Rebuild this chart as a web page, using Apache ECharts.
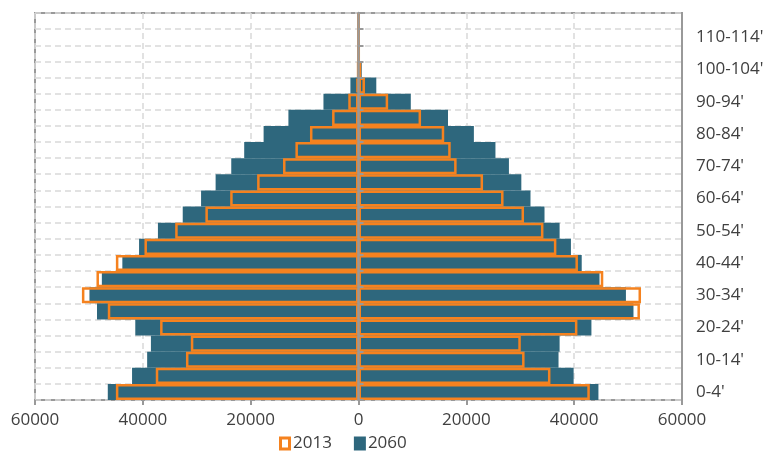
<!DOCTYPE html>
<html>
<head>
<meta charset="utf-8">
<script src="https://cdn.jsdelivr.net/npm/echarts@6/dist/echarts.min.js"></script>
<style>html,body{margin:0;padding:0;background:#fff}#c{width:767px;height:451px}</style>
</head>
<body>
<div id="c"></div>
<script>
const categories = ["0-4'","5-9'","10-14'","15-19'","20-24'","25-29'","30-34'","35-39'","40-44'","45-49'","50-54'","55-59'","60-64'","65-69'","70-74'","75-79'","80-84'","85-89'","90-94'","95-99'","100-104'","105-109'","110-114'","115-119'"];
const left2013 = [45000,37600,32000,31100,36800,46500,51300,48600,45000,39700,34000,28400,23800,18800,14000,11700,9000,4900,1900,400,150,50,30,0];
const left2060 = [46500,42000,39200,38500,41400,48500,49900,47600,43800,40700,37200,32600,29200,26500,23600,21200,17600,13000,6500,1500,200,50,0,0];
const right2013 = [42900,35600,30800,30100,40600,52200,52400,45400,40700,36700,34300,30700,26900,23100,18200,17100,15900,11600,5500,1200,500,100,50,0];
const right2060 = [44500,39900,37100,37300,43200,51000,49600,44700,41400,39400,37300,34500,31900,30200,27900,25400,21400,16600,9700,3300,600,100,0,0];
const xTicks = [-60000,-40000,-20000,0,20000,40000,60000];

const ORANGE = '#F5821F', TEAL = '#2E677D', GRAY = '#999999', TXT = '#404040';
const FONT = 'Open Sans';
const neg = a => a.map(v => -v);

const chart = echarts.init(document.getElementById('c'), null, {renderer: 'canvas'});
chart.setOption({
  animation: false,
  textStyle: {fontFamily: FONT},
  grid: {left: 35, right: 85, top: 13, bottom: 51, show: true, borderColor: GRAY, borderWidth: 2, backgroundColor: 'transparent'},
  legend: {
    left: 274, top: 430, itemWidth: 12, itemHeight: 14, itemGap: 22,
    textStyle: {fontFamily: FONT, fontSize: 17, color: TXT, padding: [0,0,0,-3]},
    data: [
      {name: '2013', icon: 'path://M0,0H12V14H0Z M3,3V11H9V3Z', itemStyle: {color: ORANGE, borderWidth: 0}},
      {name: '2060', icon: 'rect', itemStyle: {color: TEAL, borderWidth: 0}}
    ]
  },
  xAxis: {
    type: 'value', min: xTicks[0], max: xTicks[xTicks.length-1], interval: 20000,
    axisLine: {onZero: false, lineStyle: {color: GRAY, width: 2}},
    axisTick: {show: true, length: 5, lineStyle: {color: GRAY, width: 2}},
    axisLabel: {fontFamily: FONT, fontSize: 17, color: TXT, margin: 12, formatter: v => String(Math.abs(v))},
    splitLine: {show: true, lineStyle: {color: '#d9d9d9', type: [6,4], width: 1.5}}
  },
  yAxis: [
    {
      type: 'category', data: categories, position: 'right', boundaryGap: true,
      axisLine: {onZero: false, show: true, lineStyle: {color: GRAY, width: 2}},
      axisTick: {show: false},
      axisLabel: {interval: 1, fontFamily: FONT, fontSize: 17, color: TXT, margin: 14},
      splitLine: {show: true, interval: 0, lineStyle: {color: '#d9d9d9', type: [6,4], width: 1.5}}
    },
    {
      type: 'category', data: categories, position: 'left', boundaryGap: true, z: 10,
      axisLine: {onZero: true, show: true, lineStyle: {color: GRAY, width: 2.5}},
      axisTick: {show: true, inside: true, interval: 0, length: 5, lineStyle: {color: GRAY, width: 2}},
      axisLabel: {show: false},
      splitLine: {show: false}
    }
  ],
  series: [
    {name: '2060', type: 'bar', yAxisIndex: 0, data: neg(left2060), barCategoryGap: '0%', barGap: '-100%', itemStyle: {color: TEAL}, z: 2},
    {name: '2060', type: 'bar', yAxisIndex: 0, data: right2060, barCategoryGap: '0%', barGap: '-100%', itemStyle: {color: TEAL}, z: 2},
    {name: '2013', type: 'bar', yAxisIndex: 0, data: neg(left2013), barCategoryGap: '0%', barGap: '-100%', itemStyle: {color: 'rgba(0,0,0,0)', borderColor: ORANGE, borderWidth: 2.5}, z: 3},
    {name: '2013', type: 'bar', yAxisIndex: 0, data: right2013, barCategoryGap: '0%', barGap: '-100%', itemStyle: {color: 'rgba(0,0,0,0)', borderColor: ORANGE, borderWidth: 2.5}, z: 3}
  ]
});
</script>
</body>
</html>
